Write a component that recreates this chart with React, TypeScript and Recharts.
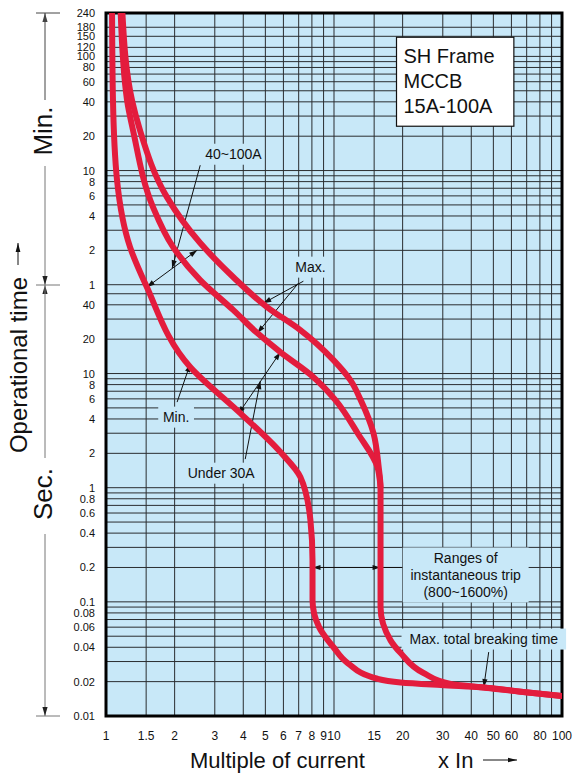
import React from 'react';
import {
  LineChart,
  Line,
  XAxis,
  YAxis,
  CartesianGrid,
  ReferenceLine,
  ReferenceDot,
  ReferenceArea,
} from 'recharts';

const FONT = '"Liberation Sans", Arial, Helvetica, sans-serif';
const BG = '#c8e8f8';
const RED = '#e31c3d';
const GRID = '#2a2d30';

// ---- axes ----
const xGridValues = [1, 1.5, 2, 3, 4, 5, 6, 7, 8, 9, 10, 15, 20, 30, 40, 50, 60, 70, 80, 90, 100];
const xTickValues = [1, 1.5, 2, 3, 4, 5, 6, 7, 8, 9, 10, 15, 20, 30, 40, 50, 60, 80, 100];
const xTickLabels = ['1', '1.5', '2', '3', '4', '5', '6', '7', '8', '9', '10', '15', '20', '30', '40', '50', '60', '80', '100'];

// operational time in seconds
const yGridSeconds = [
  0.01, 0.02, 0.03, 0.04, 0.05, 0.06, 0.07, 0.08, 0.09,
  0.1, 0.2, 0.3, 0.4, 0.5, 0.6, 0.7, 0.8, 0.9,
  1, 2, 3, 4, 5, 6, 7, 8, 9,
  10, 20, 30, 40, 50,
  60, 120, 180, 240, 300, 360, 420, 480, 540,
  600, 1200, 1800, 2400, 3000, 3600, 4200, 4800, 5400,
  6000, 7200, 9000, 10800, 14400,
];
const yTickValues = [
  0.01, 0.02, 0.04, 0.06, 0.08, 0.1, 0.2, 0.4, 0.6, 0.8, 1, 2, 4, 6, 8, 10, 20, 40,
  60, 120, 240, 360, 480, 600, 1200, 2400, 3600, 4800, 6000, 7200, 9000, 10800, 14400,
];
const yTickLabels = [
  '0.01', '0.02', '0.04', '0.06', '0.08', '0.1', '0.2', '0.4', '0.6', '0.8', '1', '2', '4', '6', '8', '10', '20', '40',
  '1', '2', '4', '6', '8', '10', '20', '40', '60', '80', '100', '120', '150', '180', '240',
];

// ---- curves (x = multiple of current, t = seconds) ----
const minCurve = [
  { x: 1.063, t: 14400 },
  { x: 1.073, t: 2480 },
  { x: 1.118, t: 493 },
  { x: 1.275, t: 128 },
  { x: 1.5, t: 59 },
  { x: 2.34, t: 11.4 },
  { x: 3.88, t: 4.5 },
  { x: 5.82, t: 2.05 },
  { x: 7.12, t: 1.24 },
  { x: 7.88, t: 0.52 },
  { x: 8.05, t: 0.23 },
  { x: 8.05, t: 0.104 },
  { x: 8.6, t: 0.06 },
  { x: 9.95, t: 0.04 },
  { x: 11.5, t: 0.029 },
  { x: 15.5, t: 0.0212 },
  { x: 19.6, t: 0.0197 },
  { x: 29.4, t: 0.0187 },
  { x: 45.4, t: 0.0178 },
  { x: 66, t: 0.0163 },
  { x: 100, t: 0.015 },
];

const maxUnder30A = [
  { x: 1.16, t: 14400 },
  { x: 1.237, t: 2480 },
  { x: 1.314, t: 1350 },
  { x: 1.609, t: 286 },
  { x: 1.97, t: 128 },
  { x: 2.59, t: 65.8 },
  { x: 3.62, t: 35.9 },
  { x: 4.61, t: 22.6 },
  { x: 5.82, t: 15.4 },
  { x: 8.13, t: 9.3 },
  { x: 10.15, t: 5.85 },
  { x: 12.7, t: 3.0 },
  { x: 15.5, t: 1.52 },
  { x: 16, t: 1.0 },
];

const max40to100A = [
  { x: 1.18, t: 14400 },
  { x: 1.3, t: 2480 },
  { x: 1.41, t: 1350 },
  { x: 1.85, t: 351 },
  { x: 2.59, t: 139 },
  { x: 3.62, t: 69.8 },
  { x: 5.1, t: 38 },
  { x: 7.12, t: 24 },
  { x: 9.95, t: 13.1 },
  { x: 11.8, t: 8.75 },
  { x: 13.1, t: 5.85 },
  { x: 14.9, t: 3.0 },
  { x: 15.7, t: 1.52 },
  { x: 16, t: 1.0 },
  { x: 16, t: 0.09 },
  { x: 17.7, t: 0.046 },
  { x: 19.6, t: 0.0356 },
  { x: 24.7, t: 0.0238 },
  { x: 32.5, t: 0.0191 },
  { x: 45.4, t: 0.0178 },
  { x: 66, t: 0.0163 },
  { x: 100, t: 0.015 },
];

// ---- annotations (data coordinates) ----
const leaderArrows = [
  { from: { x: 2.59, t: 668 }, to: { x: 1.95, t: 83.7 }, heads: 'end' },
  { from: { x: 1.51, t: 57.1 }, to: { x: 2.51, t: 120.4 }, heads: 'both' },
  { from: { x: 7.34, t: 64.4 }, to: { x: 4.9, t: 41.3 }, heads: 'end' },
  { from: { x: 6.98, t: 61.9 }, to: { x: 4.61, t: 22.6 }, heads: 'end' },
  { from: { x: 2.05, t: 5.62 }, to: { x: 2.34, t: 12.1 }, heads: 'end' },
  { from: { x: 4.08, t: 1.78 }, to: { x: 4.75, t: 8.58 }, heads: 'end' },
  { from: { x: 3.8, t: 4.41 }, to: { x: 5.82, t: 15.4 }, heads: 'both' },
  { from: { x: 8.05, t: 0.2 }, to: { x: 16, t: 0.2 }, heads: 'both' },
  { from: { x: 16, t: 0.2 }, to: { x: 20.2, t: 0.2 }, heads: 'none' },
  { from: { x: 47.7, t: 0.0363 }, to: { x: 45.4, t: 0.0179 }, heads: 'end' },
];

const calloutLabels = [
  { x: 3.62, t: 834, lines: ['40~100A'] },
  { x: 7.88, t: 85.5, lines: ['Max.'] },
  { x: 2.03, t: 4.15, lines: ['Min.'] },
  { x: 3.2, t: 1.34, lines: ['Under 30A'] },
  { x: 37.8, t: 0.172, lines: ['Ranges of', 'instantaneous trip', '(800~1600%)'] },
  { x: 45.4, t: 0.0472, lines: ['Max. total breaking time'] },
];

const titleBox = { x1: 18.8, x2: 61.5, t1: 1467, t2: 8830 };
const titleLines = ['SH Frame', 'MCCB', '15A-100A'];

// ---- helpers ----
function headPath(x1: number, y1: number, x2: number, y2: number, len = 8, half = 2.6) {
  const dx = x2 - x1;
  const dy = y2 - y1;
  const L = Math.hypot(dx, dy) || 1;
  const ux = dx / L;
  const uy = dy / L;
  const bx = x2 - ux * len;
  const by = y2 - uy * len;
  return `M${x2},${y2} L${bx - uy * half},${by + ux * half} L${bx + uy * half},${by - ux * half} Z`;
}

const makeArrowShape = (heads: string) => (p: any) => {
  const { x1, y1, x2, y2 } = p;
  if ([x1, y1, x2, y2].some((v) => typeof v !== 'number' || isNaN(v))) return <g />;
  return (
    <g>
      <line x1={x1} y1={y1} x2={x2} y2={y2} stroke="#111" strokeWidth={1} />
      {(heads === 'end' || heads === 'both') && <path d={headPath(x1, y1, x2, y2)} fill="#111" />}
      {heads === 'both' && <path d={headPath(x2, y2, x1, y1)} fill="#111" />}
    </g>
  );
};

const makeLabelShape = (lines: string[]) => (p: any) => {
  const { cx, cy } = p;
  if (typeof cx !== 'number' || typeof cy !== 'number') return <g />;
  const fs = 14;
  const lh = 17;
  const maxLen = Math.max(...lines.map((l) => l.length));
  const w = maxLen * fs * 0.46 + 10;
  const h = lines.length * lh + 4;
  const top = cy - (lines.length * lh) / 2;
  return (
    <g>
      <rect x={cx - w / 2} y={cy - h / 2} width={w} height={h} fill={BG} />
      {lines.map((l, i) => (
        <text
          key={i}
          x={cx}
          y={top + i * lh + lh / 2 + 5}
          textAnchor="middle"
          fontSize={fs}
          fontFamily={FONT}
          fill="#111"
        >
          {l}
        </text>
      ))}
    </g>
  );
};

const TitleBoxShape = (p: any) => {
  const { x, y, width, height } = p;
  if (typeof x !== 'number') return <g />;
  return (
    <g>
      <rect x={x} y={y} width={width} height={height} fill="#fff" stroke="#111" strokeWidth={1.2} />
      {titleLines.map((l, i) => (
        <text key={i} x={x + 7} y={y + 26 + i * 25} fontSize={20} fontFamily={FONT} fill="#111">
          {l}
        </text>
      ))}
    </g>
  );
};

const XTick = (p: any) => {
  const { x, y, payload } = p;
  const i = xTickValues.findIndex((v) => Math.abs(v - payload.value) < v * 1e-6);
  if (i < 0) return <g />;
  return (
    <text x={x} y={y + 24} textAnchor="middle" fontSize={12} fontFamily={FONT} fill="#111">
      {xTickLabels[i]}
    </text>
  );
};

const YTick = (p: any) => {
  const { x, y, payload } = p;
  const i = yTickValues.findIndex((v) => Math.abs(v - payload.value) < v * 1e-6);
  if (i < 0) return <g />;
  return (
    <text x={x - 11} y={y + 4} textAnchor="end" fontSize={11} fontFamily={FONT} fill="#111">
      {yTickLabels[i]}
    </text>
  );
};

const W = 574;
const H = 779;

function SideDecor() {
  const c = '#444';
  const g = '#777';
  const up = (x: number, y: number) => headPath(x, y + 10, x, y, 9, 2.6);
  const down = (x: number, y: number) => headPath(x, y - 10, x, y, 9, 2.6);
  return (
    <svg width={W} height={H} style={{ position: 'absolute', left: 0, top: 0, pointerEvents: 'none' }}>
      {/* Min. bracket */}
      <line x1={36} y1={13} x2={60} y2={13} stroke={c} strokeWidth={1} />
      <line x1={45} y1={13} x2={45} y2={100} stroke={c} strokeWidth={1} />
      <path d={up(45, 13)} fill={c} />
      <text transform="translate(52,131) rotate(-90)" textAnchor="middle" fontSize={26} fontFamily={FONT} fill="#111">
        Min.
      </text>
      <line x1={45} y1={166} x2={45} y2={285} stroke={g} strokeWidth={1} />
      <path d={down(45, 285)} fill="#222" />
      <line x1={36} y1={285} x2={60} y2={285} stroke={g} strokeWidth={1} />
      <path d={up(45, 285)} fill="#222" />
      <line x1={45} y1={285} x2={45} y2={458} stroke={g} strokeWidth={1} />
      <text transform="translate(52,494) rotate(-90)" textAnchor="middle" fontSize={26} fontFamily={FONT} fill="#111">
        Sec.
      </text>
      <line x1={45} y1={534} x2={45} y2={716} stroke={g} strokeWidth={1} />
      <path d={down(45, 716)} fill="#222" />
      <line x1={36} y1={716} x2={60} y2={716} stroke={g} strokeWidth={1} />

      {/* Operational time */}
      <text transform="translate(27,365) rotate(-90)" textAnchor="middle" fontSize={24} fontFamily={FONT} fill="#111">
        Operational time
      </text>
      <line x1={18} y1={265} x2={18} y2={243} stroke="#111" strokeWidth={1} />
      <path d={headPath(18, 265, 18, 243, 9, 2.4)} fill="#111" />

      {/* x axis title */}
      <text x={190} y={768} fontSize={22} fontFamily={FONT} fill="#111">
        Multiple of current
      </text>
      <text x={438} y={768} fontSize={22} fontFamily={FONT} fill="#111">
        x In
      </text>
      <line x1={483} y1={760} x2={517} y2={760} stroke="#111" strokeWidth={1} />
      <path d={headPath(483, 760, 517, 760, 9, 2.2)} fill="#111" />
    </svg>
  );
}

export default function App() {
  return (
    <div style={{ position: 'absolute', left: 0, top: 0, width: W, height: H, background: '#fff' }}>
      <LineChart width={W} height={H} margin={{ top: 13, right: 12, bottom: 0, left: 0 }}>
        <CartesianGrid fill={BG} fillOpacity={1} stroke={GRID} strokeWidth={1} />
        <XAxis
          type="number"
          dataKey="x"
          scale="log"
          domain={[1, 100]}
          allowDataOverflow
          ticks={xGridValues}
          interval={0}
          height={63}
          tickLine={false}
          axisLine={false}
          tickSize={0}
          tickMargin={0}
          tick={(p: any) => <XTick {...p} />}
        />
        <YAxis
          type="number"
          dataKey="t"
          scale="log"
          domain={[0.01, 14400]}
          allowDataOverflow
          ticks={yGridSeconds}
          interval={0}
          width={106}
          tickLine={false}
          axisLine={false}
          tickSize={0}
          tickMargin={0}
          tick={(p: any) => <YTick {...p} />}
        />
        <ReferenceArea
          x1={titleBox.x1}
          x2={titleBox.x2}
          y1={titleBox.t1}
          y2={titleBox.t2}
          shape={(p: any) => <TitleBoxShape {...p} />}
        />
        {calloutLabels.map((l, i) => (
          <ReferenceDot key={'lab' + i} x={l.x} y={l.t} r={1} shape={makeLabelShape(l.lines)} />
        ))}
        {leaderArrows.map((a, i) => (
          <ReferenceLine
            key={'arr' + i}
            segment={[
              { x: a.from.x, y: a.from.t },
              { x: a.to.x, y: a.to.t },
            ]}
            shape={makeArrowShape(a.heads)}
          />
        ))}
        <Line
          data={minCurve}
          dataKey="t"
          type="monotoneY"
          stroke={RED}
          strokeWidth={6}
          dot={false}
          activeDot={false}
          isAnimationActive={false}
        />
        <Line
          data={maxUnder30A}
          dataKey="t"
          type="monotoneY"
          stroke={RED}
          strokeWidth={6}
          dot={false}
          activeDot={false}
          isAnimationActive={false}
        />
        <Line
          data={max40to100A}
          dataKey="t"
          type="monotoneY"
          stroke={RED}
          strokeWidth={6}
          dot={false}
          activeDot={false}
          isAnimationActive={false}
        />
        <ReferenceArea
          x1={1}
          x2={100}
          y1={0.01}
          y2={14400}
          fill="none"
          fillOpacity={0}
          stroke="#000"
          strokeWidth={3}
          ifOverflow="visible"
        />
      </LineChart>
      <SideDecor />
    </div>
  );
}
